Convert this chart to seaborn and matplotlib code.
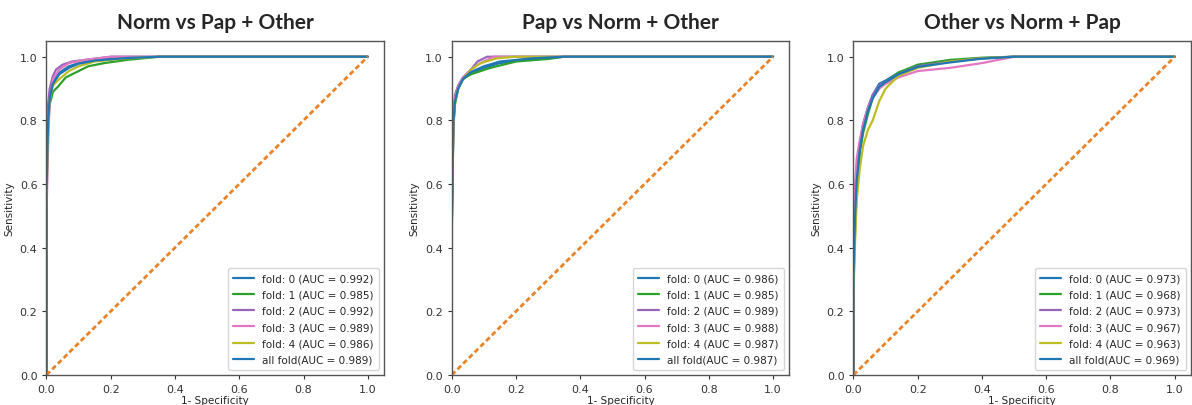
import numpy as np
import pandas as pd
import matplotlib.pyplot as plt
import seaborn as sns

titles = ["Norm vs Pap + Other", "Pap vs Norm + Other", "Other vs Norm + Pap"]
fold_names = ["fold: 0", "fold: 1", "fold: 2", "fold: 3", "fold: 4", "all fold"]

norm_auc = [0.992, 0.985, 0.992, 0.989, 0.986, 0.989]
pap_auc = [0.986, 0.985, 0.989, 0.988, 0.987, 0.987]
other_auc = [0.973, 0.968, 0.973, 0.967, 0.963, 0.969]

# ROC points (fpr, tpr) per fold
norm_fpr = [
    [0, 0, 0.005, 0.01, 0.02, 0.04, 0.07, 0.1, 0.15, 0.25, 0.35, 1.0],
    [0, 0, 0.005, 0.01, 0.02, 0.035, 0.06, 0.1, 0.13, 0.18, 0.25, 0.35, 1.0],
    [0, 0, 0.005, 0.01, 0.02, 0.03, 0.05, 0.08, 0.12, 0.2, 1.0],
    [0, 0, 0.005, 0.01, 0.02, 0.04, 0.07, 0.12, 0.2, 1.0],
    [0, 0, 0.005, 0.01, 0.02, 0.04, 0.07, 0.1, 0.15, 0.25, 0.35, 1.0],
    [0, 0, 0.005, 0.01, 0.02, 0.04, 0.07, 0.1, 0.15, 0.25, 0.35, 1.0],
]
norm_tpr = [
    [0, 0.6, 0.82, 0.88, 0.92, 0.95, 0.97, 0.98, 0.99, 0.995, 1, 1],
    [0, 0.55, 0.78, 0.85, 0.89, 0.905, 0.935, 0.955, 0.97, 0.98, 0.99, 1, 1],
    [0, 0.65, 0.85, 0.9, 0.94, 0.96, 0.975, 0.985, 0.99, 1, 1],
    [0, 0.5, 0.72, 0.86, 0.93, 0.96, 0.98, 0.99, 1, 1],
    [0, 0.55, 0.8, 0.87, 0.91, 0.93, 0.955, 0.97, 0.985, 0.995, 1, 1],
    [0, 0.58, 0.8, 0.87, 0.915, 0.945, 0.965, 0.978, 0.988, 0.996, 1, 1],
]

pap_fpr = [
    [0, 0, 0.005, 0.01, 0.02, 0.035, 0.06, 0.1, 0.15, 0.25, 0.35, 1.0],
    [0, 0, 0.005, 0.01, 0.02, 0.035, 0.06, 0.09, 0.12, 0.2, 0.3, 0.35, 1.0],
    [0, 0, 0.005, 0.01, 0.02, 0.035, 0.06, 0.08, 0.11, 1.0],
    [0, 0, 0.005, 0.01, 0.02, 0.035, 0.06, 0.09, 0.13, 1.0],
    [0, 0, 0.005, 0.01, 0.02, 0.035, 0.06, 0.09, 0.14, 0.2, 1.0],
    [0, 0, 0.005, 0.01, 0.02, 0.035, 0.06, 0.1, 0.15, 0.25, 0.35, 1.0],
]
pap_tpr = [
    [0, 0.45, 0.78, 0.86, 0.9, 0.93, 0.95, 0.965, 0.98, 0.993, 1, 1],
    [0, 0.45, 0.78, 0.85, 0.9, 0.93, 0.945, 0.955, 0.965, 0.985, 0.993, 1, 1],
    [0, 0.55, 0.83, 0.88, 0.91, 0.935, 0.96, 0.985, 1, 1],
    [0, 0.5, 0.82, 0.87, 0.905, 0.935, 0.96, 0.98, 1, 1],
    [0, 0.5, 0.8, 0.86, 0.9, 0.93, 0.96, 0.98, 0.995, 1, 1],
    [0, 0.47, 0.8, 0.86, 0.9, 0.93, 0.952, 0.97, 0.985, 0.995, 1, 1],
]

other_fpr = [
    [0, 0, 0.005, 0.01, 0.02, 0.03, 0.045, 0.06, 0.08, 0.1, 0.14, 0.2, 0.3, 0.4, 0.5, 1.0],
    [0, 0, 0.005, 0.01, 0.02, 0.03, 0.045, 0.06, 0.08, 0.1, 0.14, 0.2, 0.3, 0.4, 0.5, 1.0],
    [0, 0, 0.005, 0.01, 0.02, 0.03, 0.045, 0.06, 0.08, 0.1, 0.14, 0.2, 0.3, 0.4, 0.5, 1.0],
    [0, 0, 0.005, 0.01, 0.02, 0.03, 0.045, 0.06, 0.08, 0.1, 0.14, 0.2, 0.3, 0.4, 0.5, 1.0],
    [0, 0, 0.005, 0.01, 0.02, 0.03, 0.045, 0.06, 0.08, 0.1, 0.14, 0.2, 0.3, 0.4, 0.5, 1.0],
    [0, 0, 0.005, 0.01, 0.02, 0.03, 0.045, 0.06, 0.08, 0.1, 0.14, 0.2, 0.3, 0.4, 0.5, 1.0],
]
other_tpr = [
    [0, 0.3, 0.5, 0.62, 0.72, 0.78, 0.84, 0.88, 0.915, 0.925, 0.95, 0.97, 0.985, 0.995, 1, 1],
    [0, 0.28, 0.45, 0.58, 0.7, 0.76, 0.82, 0.87, 0.9, 0.92, 0.95, 0.975, 0.99, 0.997, 1, 1],
    [0, 0.35, 0.55, 0.64, 0.73, 0.79, 0.84, 0.88, 0.91, 0.92, 0.945, 0.97, 0.985, 0.995, 1, 1],
    [0, 0.4, 0.6, 0.68, 0.74, 0.79, 0.84, 0.87, 0.9, 0.915, 0.935, 0.955, 0.965, 0.98, 1, 1],
    [0, 0.25, 0.42, 0.55, 0.65, 0.72, 0.77, 0.8, 0.86, 0.9, 0.94, 0.965, 0.985, 0.995, 1, 1],
    [0, 0.32, 0.5, 0.61, 0.71, 0.77, 0.83, 0.87, 0.905, 0.92, 0.945, 0.968, 0.982, 0.994, 1, 1],
]

chance = [0, 1]

panels = [
    (norm_fpr, norm_tpr, norm_auc),
    (pap_fpr, pap_tpr, pap_auc),
    (other_fpr, other_tpr, other_auc),
]

colors = ["#1f77b4", "#2ca02c", "#9467bd", "#e377c2", "#bcbd22", "#1f77b4"]

sns.set_style("ticks")
plt.rcParams["font.family"] = ["DejaVu Sans"]

fig = plt.figure(figsize=(11.92, 4.06), dpi=100)
lefts = [0.039, 0.379, 0.716]
for k, (fprs, tprs, aucs) in enumerate(panels):
    ax = fig.add_axes([lefts[k], 0.074, 0.283, 0.823])
    rows = []
    labels = []
    for i in range(6):
        if i < 5:
            lab = f"{fold_names[i]} (AUC = {aucs[i]:.3f})"
        else:
            lab = f"{fold_names[i]}(AUC = {aucs[i]:.3f})"
        labels.append(lab)
        for x, y in zip(fprs[i], tprs[i]):
            rows.append({"fpr": x, "tpr": y, "label": lab})
    df = pd.DataFrame(rows)
    sns.lineplot(data=df, x="fpr", y="tpr", hue="label", hue_order=labels,
                 palette=colors, sort=False, estimator=None, linewidth=1.6,
                 ax=ax)
    ax.plot(chance, chance, linestyle=(0, (1.8, 1.1)), color="#e8832a",
            linewidth=2)
    ax.set_xlim(0, 1.05)
    ax.set_ylim(0, 1.05)
    ax.set_xticks([0, 0.2, 0.4, 0.6, 0.8, 1.0])
    ax.set_yticks([0, 0.2, 0.4, 0.6, 0.8, 1.0])
    ax.tick_params(labelsize=8, length=3, colors="#333333")
    ax.set_xlabel("1- Specificity", fontsize=7.5, labelpad=1)
    ax.set_ylabel("Sensitivity", fontsize=7.5, labelpad=4)
    for s in ax.spines.values():
        s.set_color("#555555")
        s.set_linewidth(1.0)
    ax.legend(loc="lower right", fontsize=7.5, handlelength=2.0,
              labelspacing=0.6, borderpad=0.5)
    ax.set_title(titles[k], fontsize=15, fontweight="bold",
                 family=["Lato", "DejaVu Sans"], pad=9)

fig.savefig("out.png", dpi=100)
